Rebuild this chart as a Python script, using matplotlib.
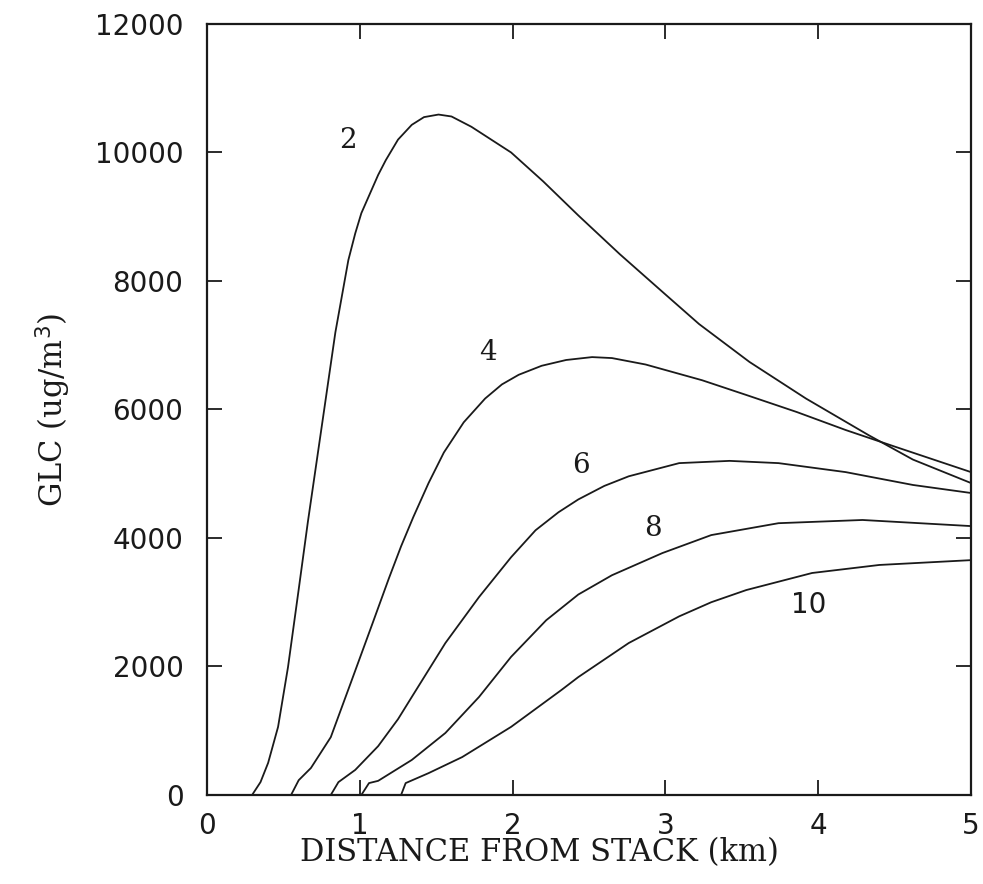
"""
plot.py

Ground level concentration vs. distance from stack, one curve per case.
"""

import matplotlib.pyplot as plt

# distance (km) and GLC (ug/m3), one pair of lists per curve
x_2 = [0.295, 0.35, 0.40, 0.465, 0.53, 0.60, 0.66, 0.715, 0.77, 0.84, 0.925,
       0.97, 1.01, 1.12, 1.17, 1.25, 1.34, 1.42, 1.515, 1.60, 1.73, 1.99,
       2.2, 2.43, 2.7, 3.0, 3.22, 3.55, 3.92, 4.33, 4.62, 5.0]
y_2 = [0, 200, 500, 1060, 1990, 3200, 4250, 5150, 6050, 7200, 8325,
       8740, 9055, 9650, 9880, 10200, 10430, 10550, 10590, 10560, 10400, 10000,
       9550, 9020, 8420, 7790, 7330, 6740, 6170, 5600, 5220, 4855]

x_4 = [0.55, 0.60, 0.68, 0.81, 0.94, 1.08, 1.19, 1.27, 1.35, 1.45, 1.55,
       1.68, 1.82, 1.93, 2.04, 2.19, 2.35, 2.52, 2.65, 2.87, 3.24, 3.53,
       3.86, 4.18, 4.51, 5.0]
y_4 = [0, 230, 420, 900, 1740, 2650, 3370, 3870, 4325, 4855, 5330,
       5800, 6170, 6390, 6540, 6680, 6770, 6815, 6800, 6700, 6455, 6225,
       5960, 5680, 5415, 5025]

x_6 = [0.81, 0.86, 0.97, 1.12, 1.25, 1.34, 1.56, 1.78, 1.99, 2.15, 2.3,
       2.43, 2.6, 2.76, 3.09, 3.42, 3.74, 4.18, 4.62, 5.0]
y_6 = [0, 200, 390, 760, 1180, 1525, 2365, 3080, 3700, 4120, 4400,
       4600, 4810, 4960, 5165, 5200, 5165, 5025, 4825, 4700]

x_8 = [1.01, 1.06, 1.12, 1.34, 1.56, 1.78, 1.99, 2.22, 2.43, 2.65, 2.98,
       3.30, 3.74, 4.29, 5.0]
y_8 = [0, 185, 220, 545, 965, 1525, 2150, 2720, 3120, 3420, 3765,
       4045, 4230, 4280, 4185]

x_10 = [1.27, 1.30, 1.45, 1.67, 1.99, 2.32, 2.43, 2.76, 3.09, 3.3, 3.53,
        3.96, 4.40, 5.0]
y_10 = [0, 185, 340, 590, 1060, 1635, 1835, 2365, 2780, 3000, 3190,
        3455, 3580, 3655]

curve_labels = ["2", "4", "6", "8", "10"]
label_x = [0.925, 1.84, 2.45, 2.92, 3.94]
label_y = [10190, 6890, 5135, 4150, 2955]
label_fonts = ["DejaVu Serif", "DejaVu Serif", "DejaVu Serif", "DejaVu Serif",
               "DejaVu Sans"]

x_ticks = [0, 1, 2, 3, 4, 5]
y_ticks = [0, 2000, 4000, 6000, 8000, 10000, 12000]


fig = plt.figure(figsize=(9.83, 8.84), dpi=100)
ax = fig.add_axes([0.2106, 0.1007, 0.7772, 0.8722])

for xs, ys in [(x_2, y_2), (x_4, y_4), (x_6, y_6), (x_8, y_8), (x_10, y_10)]:
    ax.plot(xs, ys, color="#1a1a1a", linewidth=1.3)

for text, lx, ly, fam in zip(curve_labels, label_x, label_y, label_fonts):
    ax.text(lx, ly, text, fontsize=20, color="#1a1a1a",
            ha="center", va="center", family=fam)

ax.set_xlim(0, 5)
ax.set_ylim(0, 12000)
ax.set_xticks(x_ticks)
ax.set_yticks(y_ticks)
ax.tick_params(direction="in", length=11, width=1.3, top=True, right=True,
               labelsize=20, colors="#1a1a1a")
ax.tick_params(axis="y", pad=17)
ax.tick_params(axis="x", pad=12)
for spine in ax.spines.values():
    spine.set_linewidth(1.6)
    spine.set_color("#1a1a1a")

ax.set_xlabel("DISTANCE FROM STACK (km)", family="DejaVu Serif",
              fontsize=22, color="#1a1a1a")
ax.xaxis.set_label_coords(0.435, -0.055)
ax.set_ylabel("GLC (ug/m$^3$)", family="DejaVu Serif",
              fontsize=22, labelpad=16, color="#1a1a1a")

fig.savefig("out.png", dpi=100)
